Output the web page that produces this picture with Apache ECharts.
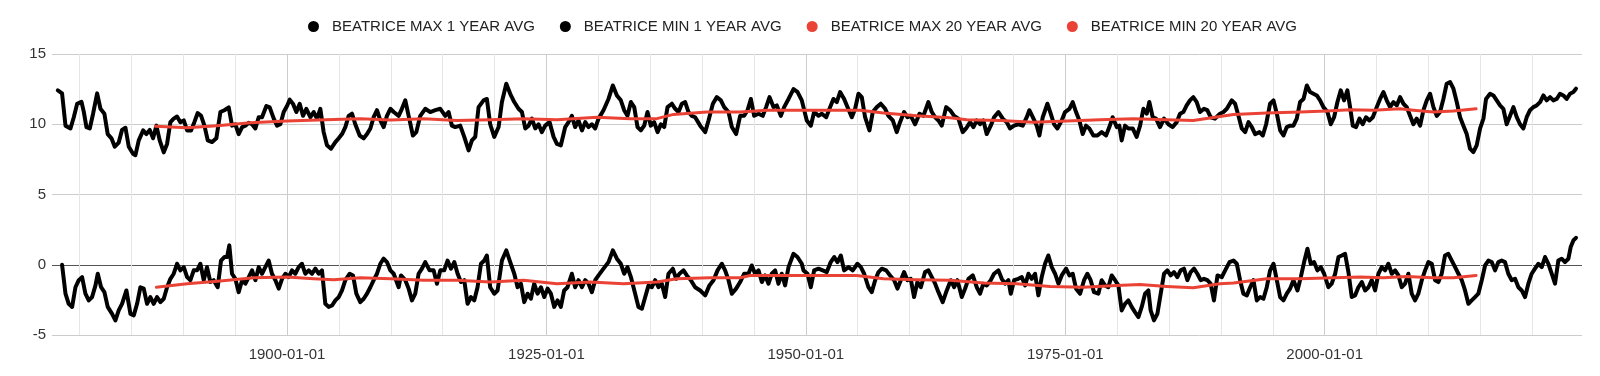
<!DOCTYPE html>
<html>
<head>
<meta charset="utf-8">
<script src="https://cdn.jsdelivr.net/npm/echarts@6/dist/echarts.min.js"></script>
<style>
html,body{margin:0;padding:0;background:#fff;}
#chart{width:1600px;height:376px;}
</style>
</head>
<body>
<div id="chart"></div>
<script>
// Series names
const seriesNames = ['BEATRICE MAX 1 YEAR AVG', 'BEATRICE MIN 1 YEAR AVG', 'BEATRICE MAX 20 YEAR AVG', 'BEATRICE MIN 20 YEAR AVG'];

// Axis ticks / labels (years)
const xLabelYears = [1900, 1925, 1950, 1975, 2000];
const xGridYears = [1880, 1885, 1890, 1895, 1900, 1905, 1910, 1915, 1920, 1925, 1930, 1935, 1940, 1945, 1950, 1955, 1960, 1965, 1970, 1975, 1980, 1985, 1990, 1995, 2000, 2005, 2010, 2015, 2020];
const xMinYear = 1877.35;
const xMaxYear = 2024.8;

// [decimal year, value]
const max1Year = [
[1877.91,12.41],[1878.32,12.2],[1878.65,9.9],[1879.13,9.7],[1879.45,10.5],[1879.77,11.45],[1880.19,11.6],[1880.41,10.9],[1880.67,9.8],[1880.99,9.7],[1881.31,10.75],[1881.70,12.2],[1882.02,11.1],[1882.40,10.75],[1882.72,9.3],[1883.08,9.0],[1883.40,8.4],[1883.78,8.7],[1884.10,9.6],[1884.43,9.75],[1884.75,8.4],[1885.16,7.9],[1885.39,7.8],[1885.71,8.85],[1886.13,9.56],[1886.45,9.3],[1886.77,9.6],[1887.09,9.0],[1887.41,9.9],[1887.73,8.85],[1888.12,8.0],[1888.44,8.6],[1888.76,10.15],[1889.08,10.4],[1889.40,10.55],[1889.72,10.15],[1890.05,10.27],[1890.37,9.56],[1890.75,9.56],[1891.07,10.15],[1891.39,10.8],[1891.72,10.6],[1892.04,9.9],[1892.36,8.85],[1892.78,8.73],[1893.19,9.0],[1893.58,10.87],[1893.96,11.0],[1894.38,11.2],[1894.70,9.9],[1895.02,10.0],[1895.34,9.3],[1895.67,9.8],[1895.99,9.9],[1896.31,10.1],[1896.63,10.0],[1896.95,9.7],[1897.27,10.5],[1897.59,10.5],[1898.01,11.3],[1898.33,11.2],[1898.72,10.4],[1899.04,9.9],[1899.36,10.0],[1899.68,10.87],[1900.00,11.3],[1900.26,11.75],[1900.58,11.45],[1900.90,10.87],[1901.22,11.45],[1901.54,10.6],[1901.86,11.1],[1902.25,10.5],[1902.57,10.87],[1902.89,10.4],[1903.21,11.1],[1903.53,9.44],[1903.85,8.5],[1904.24,8.26],[1904.66,8.73],[1904.98,9.0],[1905.30,9.3],[1905.62,9.8],[1905.94,10.6],[1906.26,10.75],[1906.58,10.0],[1907.00,9.2],[1907.39,9.0],[1907.71,9.3],[1908.03,9.7],[1908.35,10.5],[1908.67,11.0],[1908.99,10.27],[1909.31,9.8],[1909.63,10.6],[1909.96,11.1],[1910.28,10.87],[1910.76,10.6],
[1911.07,11.1],[1911.40,11.7],[1911.72,10.6],[1912.13,9.2],[1912.46,9.44],[1912.84,10.6],[1913.32,11.1],[1913.80,10.87],[1914.29,11.0],[1914.77,11.1],[1915.25,10.6],[1915.57,10.87],[1915.89,9.9],[1916.21,9.8],[1916.69,9.9],[1917.08,9.1],[1917.50,8.14],[1917.82,8.85],[1918.14,9.1],[1918.46,11.22],[1918.94,11.7],[1919.26,11.8],[1919.58,10.0],[1919.97,9.1],[1920.39,9.8],[1920.71,11.58],[1921.13,12.88],[1921.51,12.17],[1921.90,11.58],[1922.31,11.1],[1922.64,10.87],[1922.96,9.7],[1923.28,9.9],[1923.60,10.4],[1923.92,9.7],[1924.24,10.0],[1924.56,9.44],[1924.88,9.9],[1925.30,10.15],[1925.69,9.1],[1926.01,8.6],[1926.39,8.5],[1926.81,9.8],[1927.13,10.15],[1927.45,10.6],[1927.77,9.8],[1928.09,10.27],[1928.42,9.56],[1928.74,10.15],[1929.06,9.8],[1929.38,10.0],[1929.70,9.7],[1930.02,10.4],[1930.50,11.0],[1930.98,11.8],[1931.40,12.76],[1931.79,12.05],[1932.17,11.7],[1932.49,11.0],[1932.81,10.6],[1933.14,11.58],[1933.46,11.22],[1933.78,9.8],[1934.10,9.56],[1934.42,9.9],[1934.74,10.87],[1935.06,9.9],[1935.38,10.15],[1935.71,9.44],[1936.03,10.0],[1936.35,9.8],[1936.67,11.22],[1937.09,11.46],[1937.41,11.1],[1937.73,10.87],[1938.05,11.46],[1938.37,11.58],[1938.69,10.87],[1939.01,10.6],[1939.33,10.5],[1939.82,9.9],[1940.30,9.44],[1940.62,10.27],[1941.04,11.46],[1941.42,11.93],[1941.81,11.7],[1942.13,11.22],[1942.55,10.87],[1942.87,9.8],[1943.28,9.3],[1943.67,10.6],[1944.05,10.6],[1944.38,11.0],[1944.70,11.8],[1945.02,10.6],[1945.44,10.75],[1945.85,10.6],[1946.17,11.22],[1946.50,11.93],[1946.88,11.22],[1947.20,11.34],[1947.59,10.6],[1947.91,11.22],[1948.33,11.8],[1948.81,12.5],[1949.19,12.3],[1949.61,11.7],
[1949.77,11.22],[1950.09,10.27],[1950.48,9.9],[1950.80,10.87],[1951.22,10.6],[1951.54,10.75],[1951.96,10.5],[1952.34,11.22],[1952.66,11.8],[1952.98,11.58],[1953.30,12.29],[1953.69,11.8],[1954.01,11.22],[1954.43,10.5],[1954.75,11.1],[1955.07,12.17],[1955.39,11.93],[1955.71,10.5],[1956.13,9.56],[1956.45,10.87],[1956.84,11.22],[1957.22,11.46],[1957.64,11.1],[1957.96,10.6],[1958.38,10.27],[1958.76,9.44],[1959.08,10.15],[1959.47,10.87],[1959.79,10.5],[1960.11,10.6],[1960.53,10.0],[1960.95,10.75],[1961.33,10.6],[1961.81,11.58],[1962.14,10.87],[1962.46,10.5],[1962.78,10.27],[1963.10,9.9],[1963.52,11.22],[1963.90,11.0],[1964.29,10.6],[1964.70,10.4],[1965.12,9.44],[1965.44,9.7],[1965.83,10.15],[1966.15,9.8],[1966.47,10.27],[1966.79,10.0],[1967.11,10.27],[1967.43,9.3],[1967.82,9.9],[1968.14,10.5],[1968.56,10.87],[1968.98,10.4],[1969.36,10.15],[1969.68,9.7],[1970.07,9.9],[1970.48,10.0],[1970.90,9.9],[1971.29,10.5],[1971.54,11.0],[1971.87,10.5],[1972.25,9.9],[1972.51,9.2],[1972.83,10.5],[1973.28,11.46],[1973.60,10.75],[1973.92,10.0],[1974.24,9.7],[1974.66,10.27],[1974.98,10.87],[1975.40,11.1],[1975.72,11.58],[1976.04,10.87],[1976.36,10.27],[1976.68,9.3],[1977.00,9.9],[1977.32,9.7],[1977.71,9.2],[1978.10,9.2],[1978.51,9.44],[1978.93,9.2],[1979.25,9.8],[1979.57,10.5],[1979.96,9.8],[1980.21,9.9],[1980.44,8.85],[1980.76,9.9],[1981.08,9.7],[1981.50,9.7],[1981.88,9.1],[1982.21,9.9],[1982.53,11.1],[1982.85,10.75],[1983.10,11.58],[1983.43,10.5],[1983.75,10.4],[1984.13,9.8],[1984.52,10.4],[1984.94,10.0],[1985.35,9.8],[1985.74,10.15],[1986.06,10.75],[1986.38,10.87],[1986.70,11.34],[1987.02,11.7],[1987.34,11.93],[1987.67,11.58],[1987.99,10.87],[1988.37,11.1],[1988.69,11.0],[1989.01,10.5],[1989.43,10.4],[1989.91,10.75],
[1990.25,10.87],[1990.57,11.1],[1991.05,11.7],[1991.37,11.46],[1991.69,10.6],[1992.01,9.7],[1992.34,9.44],[1992.66,10.15],[1992.98,9.8],[1993.30,9.3],[1993.72,9.44],[1994.04,9.2],[1994.36,10.0],[1994.74,11.46],[1995.07,11.7],[1995.39,10.75],[1995.71,9.56],[1996.03,9.2],[1996.35,9.8],[1996.67,9.9],[1996.99,9.9],[1997.31,10.4],[1997.63,11.58],[1997.96,11.8],[1998.28,12.76],[1998.60,12.29],[1998.92,12.17],[1999.24,12.05],[1999.56,11.7],[1999.88,11.22],[2000.27,10.87],[2000.59,10.0],[2000.91,10.5],[2001.23,11.58],[2001.55,12.41],[2001.87,11.7],[2002.19,12.41],[2002.45,11.22],[2002.71,9.9],[2003.03,9.8],[2003.35,10.4],[2003.67,10.0],[2003.99,10.5],[2004.31,10.27],[2004.64,10.5],[2005.02,11.22],[2005.34,11.8],[2005.66,12.29],[2005.98,11.7],[2006.30,11.22],[2006.63,11.58],[2006.95,11.34],[2007.27,11.93],[2007.59,11.46],[2007.91,11.22],[2008.23,10.6],[2008.55,10.0],[2008.87,10.4],[2009.20,9.9],[2009.52,11.0],[2009.84,11.7],[2010.16,12.17],[2010.48,11.22],[2010.80,10.6],[2011.12,10.87],[2011.44,11.8],[2011.76,12.88],[2012.09,13.0],[2012.41,12.53],[2012.73,11.58],[2013.05,10.5],[2013.37,9.9],[2013.69,9.3],[2014.01,8.26],[2014.33,8.02],[2014.65,8.5],[2014.98,9.7],[2015.30,10.4],[2015.55,11.8],[2015.94,12.17],[2016.26,12.05],[2016.58,11.7],[2016.90,11.34],[2017.22,11.1],[2017.54,10.0],[2017.87,10.6],[2018.19,11.22],[2018.51,10.5],[2018.83,10.0],[2019.15,9.7],[2019.47,10.5],[2019.79,11.0],[2020.11,11.22],[2020.43,11.34],[2020.76,11.58],[2021.08,12.05],[2021.40,11.7],[2021.72,11.93],[2022.04,11.7],[2022.36,11.8],[2022.68,12.17],[2023.00,12.05],[2023.32,11.8],[2023.65,12.17],[2023.97,12.29],[2024.22,12.53]
];

const min1Year = [
[1878.32,0.0],[1878.65,-2.06],[1878.96,-2.78],[1879.29,-3.0],[1879.61,-1.6],[1879.93,-1.1],[1880.25,-0.88],[1880.57,-2.06],[1880.89,-2.54],[1881.21,-2.3],[1881.54,-1.47],[1881.76,-0.64],[1882.08,-1.6],[1882.40,-1.95],[1882.72,-3.0],[1883.14,-3.5],[1883.46,-3.96],[1883.78,-3.25],[1884.10,-2.78],[1884.52,-1.83],[1884.91,-3.5],[1885.23,-3.6],[1885.55,-2.78],[1885.87,-1.6],[1886.19,-1.7],[1886.51,-2.78],[1886.83,-2.3],[1887.15,-2.78],[1887.47,-2.3],[1887.80,-2.66],[1888.12,-2.42],[1888.44,-1.6],[1888.76,-1.0],[1889.08,-0.64],[1889.40,0.07],[1889.72,-0.4],[1890.05,-0.17],[1890.37,-0.88],[1890.69,-1.1],[1891.01,-0.4],[1891.33,-0.4],[1891.65,0.07],[1891.97,-1.1],[1892.29,-0.17],[1892.61,-1.23],[1892.93,-1.1],[1893.32,-1.6],[1893.64,0.3],[1893.96,0.55],[1894.22,0.55],[1894.44,1.38],[1894.70,-0.64],[1895.02,-1.0],[1895.34,-1.95],[1895.67,-1.1],[1895.99,-1.35],[1896.31,-0.88],[1896.63,-0.4],[1896.95,-1.1],[1897.27,-0.17],[1897.59,-0.64],[1897.91,-0.17],[1898.23,0.3],[1898.55,-0.64],[1898.88,-1.1],[1899.20,-1.7],[1899.52,-1.0],[1899.84,-0.64],[1900.16,-0.88],[1900.48,-0.4],[1900.80,-0.64],[1901.12,-0.17],[1901.44,0.07],[1901.76,-0.64],[1902.09,-0.4],[1902.41,-0.64],[1902.73,-0.28],[1903.05,-0.64],[1903.37,-0.4],[1903.69,-2.78],[1904.01,-3.0],[1904.34,-2.9],[1904.66,-2.54],[1904.98,-2.3],[1905.30,-1.83],[1905.62,-1.1],[1906.04,-0.64],[1906.36,-0.76],[1906.68,-2.06],[1907.06,-2.66],[1907.39,-2.42],[1907.71,-2.06],[1908.03,-1.6],[1908.35,-1.1],[1908.67,-0.64],[1908.99,0.07],[1909.31,0.43],[1909.63,0.19],[1909.96,-0.4],[1910.28,-0.64],[1910.76,-1.6],
[1910.98,-0.76],[1911.40,-1.1],[1911.72,-1.7],[1912.04,-2.54],[1912.36,-2.06],[1912.68,-0.64],[1913.00,-0.28],[1913.32,0.19],[1913.74,-0.4],[1914.13,-0.4],[1914.45,-1.35],[1914.77,-0.4],[1915.15,-0.4],[1915.47,0.3],[1915.80,-0.28],[1916.12,0.19],[1916.44,-0.64],[1916.76,-1.23],[1917.08,-1.1],[1917.40,-2.78],[1917.72,-2.3],[1918.04,-2.54],[1918.36,-1.6],[1918.69,0.07],[1919.01,0.3],[1919.26,0.66],[1919.58,-1.6],[1919.97,-2.06],[1920.29,-1.83],[1920.71,0.3],[1921.13,1.02],[1921.51,0.19],[1921.90,-0.64],[1922.22,-1.6],[1922.54,-1.35],[1922.86,-2.66],[1923.18,-2.06],[1923.50,-2.42],[1923.82,-1.35],[1924.14,-2.06],[1924.47,-1.6],[1924.79,-2.3],[1925.11,-1.7],[1925.43,-2.06],[1925.75,-3.0],[1926.07,-2.54],[1926.39,-3.0],[1926.71,-1.83],[1927.03,-1.6],[1927.45,-0.64],[1927.77,-1.6],[1928.09,-1.1],[1928.42,-1.6],[1928.74,-1.1],[1929.06,-1.35],[1929.38,-1.95],[1929.70,-1.1],[1930.02,-0.76],[1930.50,-0.28],[1930.98,0.19],[1931.40,1.02],[1931.79,0.43],[1932.17,0.07],[1932.49,-0.64],[1932.81,-0.17],[1933.14,-0.88],[1933.55,-2.06],[1933.87,-3.0],[1934.20,-3.13],[1934.52,-2.3],[1934.84,-1.47],[1935.16,-1.6],[1935.48,-1.1],[1935.80,-1.6],[1936.12,-1.35],[1936.44,-2.3],[1936.76,-0.64],[1937.18,-0.28],[1937.50,-1.0],[1937.82,-0.64],[1938.21,-0.4],[1938.53,-0.76],[1938.92,-1.1],[1939.33,-1.6],[1939.82,-1.83],[1940.30,-2.18],[1940.71,-1.47],[1941.10,-1.1],[1941.49,-0.4],[1941.90,0.07],[1942.22,-0.4],[1942.55,-1.1],[1942.87,-2.06],[1943.28,-1.7],[1943.67,-1.23],[1944.05,-0.64],[1944.47,-0.64],[1944.79,-0.05],[1945.11,-0.64],[1945.44,-0.4],[1945.76,-1.23],[1946.08,-0.76],[1946.40,-1.35],[1946.72,-0.64],[1947.04,-0.4],[1947.36,-1.35],[1947.68,-0.64],[1948.00,-1.47],[1948.33,-0.17],[1948.81,0.78],[1949.19,0.55],[1949.61,0.07],
[1949.77,-0.4],[1950.16,-0.64],[1950.48,-1.6],[1950.80,-0.4],[1951.22,-0.28],[1951.63,-0.4],[1952.02,-0.52],[1952.40,0.19],[1952.73,0.55],[1953.05,0.19],[1953.37,0.66],[1953.69,-0.4],[1954.11,-0.17],[1954.52,-0.4],[1954.97,0.07],[1955.30,-0.17],[1955.62,-0.64],[1956.03,-1.6],[1956.35,-1.95],[1956.68,-1.1],[1957.00,-0.52],[1957.32,-0.28],[1957.74,-0.4],[1958.12,-0.76],[1958.51,-1.1],[1958.83,-1.7],[1959.15,-1.1],[1959.47,-0.52],[1959.79,-1.1],[1960.11,-1.0],[1960.43,-2.3],[1960.75,-1.23],[1961.08,-1.6],[1961.49,-0.52],[1961.81,-0.4],[1962.14,-0.88],[1962.46,-1.35],[1962.78,-1.95],[1963.19,-2.66],[1963.58,-1.83],[1963.97,-1.1],[1964.29,-1.6],[1964.61,-1.1],[1965.03,-2.3],[1965.35,-1.7],[1965.67,-1.0],[1966.09,-0.76],[1966.47,-1.6],[1966.79,-2.06],[1967.11,-1.35],[1967.43,-1.47],[1967.82,-1.1],[1968.14,-0.64],[1968.56,-0.4],[1968.88,-1.0],[1969.20,-1.35],[1969.52,-1.1],[1969.75,-2.06],[1970.07,-1.1],[1970.48,-1.0],[1970.81,-0.88],[1971.13,-1.47],[1971.45,-0.64],[1971.77,-1.0],[1972.09,-0.64],[1972.41,-2.18],[1972.73,-0.88],[1973.05,0.07],[1973.37,0.66],[1973.70,-0.17],[1974.02,-0.64],[1974.34,-1.35],[1974.66,-0.76],[1975.08,-0.28],[1975.40,-0.76],[1975.72,-0.64],[1976.04,-1.7],[1976.43,-2.06],[1976.81,-1.1],[1977.13,-0.64],[1977.45,-1.1],[1977.77,-1.95],[1978.19,-2.06],[1978.51,-1.1],[1978.83,-1.47],[1979.15,-1.6],[1979.48,-0.76],[1979.80,-1.1],[1980.12,-1.47],[1980.44,-3.25],[1980.76,-2.78],[1981.08,-2.54],[1981.40,-3.0],[1981.72,-3.37],[1982.05,-3.72],[1982.37,-3.0],[1982.69,-2.06],[1983.01,-1.83],[1983.23,-3.25],[1983.55,-3.96],[1983.88,-3.49],[1984.20,-2.06],[1984.52,-0.64],[1984.84,-0.4],[1985.16,-0.76],[1985.48,-0.52],[1985.80,-0.88],[1986.12,-0.4],[1986.44,-0.28],[1986.77,-1.1],[1987.09,-0.52],[1987.41,-0.28],[1987.73,-0.64],[1988.05,-1.1],[1988.37,-1.0],[1988.69,-1.1],[1989.01,-1.35],[1989.33,-2.54],
[1989.67,-0.76],[1990.09,-0.88],[1990.41,-0.4],[1990.83,0.19],[1991.21,0.3],[1991.53,0.07],[1991.85,-1.1],[1992.17,-2.06],[1992.50,-2.18],[1992.82,-1.6],[1993.14,-1.1],[1993.46,-2.54],[1993.78,-2.3],[1994.10,-2.42],[1994.42,-1.6],[1994.74,-0.4],[1995.07,0.07],[1995.39,-1.1],[1995.71,-2.3],[1996.03,-2.54],[1996.35,-2.06],[1996.67,-1.7],[1996.99,-1.1],[1997.38,-1.83],[1997.70,-0.88],[1998.02,0.19],[1998.34,1.14],[1998.66,0.07],[1998.98,0.19],[1999.30,-0.4],[1999.63,-0.17],[1999.95,-0.64],[2000.36,-1.6],[2000.68,-1.35],[2001.01,-0.64],[2001.33,0.55],[2001.65,0.66],[2001.97,0.78],[2002.29,-0.52],[2002.61,-2.3],[2002.93,-2.18],[2003.25,-1.6],[2003.58,-1.23],[2003.90,-1.83],[2004.22,-1.6],[2004.54,-1.1],[2004.86,-1.83],[2005.18,-0.64],[2005.50,-0.17],[2005.82,-0.4],[2006.14,0.07],[2006.47,-0.64],[2006.79,-0.4],[2007.11,-0.76],[2007.43,-1.6],[2007.75,-1.35],[2008.07,-0.64],[2008.39,-2.06],[2008.71,-2.54],[2009.03,-2.06],[2009.36,-1.1],[2009.68,-0.4],[2010.00,0.19],[2010.32,0.07],[2010.64,-1.1],[2010.96,-1.23],[2011.28,-0.64],[2011.60,0.66],[2011.92,0.78],[2012.25,0.3],[2012.57,-0.17],[2012.89,-0.64],[2013.21,-1.1],[2013.53,-1.83],[2013.85,-2.78],[2014.17,-2.54],[2014.49,-2.3],[2014.81,-2.06],[2015.14,-1.1],[2015.46,-0.05],[2015.78,0.3],[2016.10,0.19],[2016.42,-0.4],[2016.74,0.19],[2017.06,0.3],[2017.38,0.19],[2017.70,-0.64],[2018.03,-1.1],[2018.35,-1.0],[2018.67,-1.6],[2018.99,-1.83],[2019.31,-2.3],[2019.63,-1.35],[2019.95,-0.64],[2020.27,-0.28],[2020.60,0.07],[2020.92,-0.17],[2021.24,0.55],[2021.56,0.07],[2021.88,-0.64],[2022.20,-1.35],[2022.52,0.3],[2022.84,0.43],[2023.16,0.19],[2023.49,0.43],[2023.71,1.26],[2023.97,1.73],[2024.22,1.92]
];

const max20Year = [
[1887.32,9.85],[1890.37,9.75],[1893.26,9.9],[1896.47,10.1],[1900.00,10.23],[1904.50,10.34],[1907.06,10.4],[1910.0,10.3],[1913.16,10.4],[1916.37,10.27],[1919.58,10.32],[1922.80,10.4],[1926.01,10.32],[1929.86,10.5],[1933.07,10.4],[1935.64,10.4],[1937.25,10.7],[1940.46,10.87],[1943.67,10.87],[1946.24,11.0],[1948.49,11.0],[1952.66,11.0],[1955.23,11.0],[1957.48,10.8],[1960.69,10.6],[1963.90,10.46],[1965.51,10.32],[1968.72,10.27],[1971.93,10.15],[1975.14,10.23],[1978.35,10.32],[1981.56,10.4],[1984.77,10.32],[1987.34,10.27],[1989.91,10.55],[1991.21,10.7],[1994.42,10.8],[1997.63,10.87],[2000.20,10.94],[2002.45,11.03],[2004.70,11.0],[2007.27,11.1],[2008.55,11.0],[2010.48,10.87],[2012.41,10.94],[2014.59,11.1]
];

const min20Year = [
[1887.41,-1.6],[1890.37,-1.35],[1893.58,-1.16],[1896.79,-0.93],[1900.00,-0.88],[1902.57,-1.0],[1904.50,-1.07],[1907.06,-0.93],[1910.0,-1.0],[1913.16,-1.1],[1916.37,-1.1],[1919.58,-1.23],[1922.80,-1.1],[1926.01,-1.35],[1929.22,-1.23],[1932.43,-1.35],[1935.64,-1.23],[1937.57,-1.0],[1940.78,-0.93],[1943.67,-0.93],[1944.63,-0.76],[1948.49,-0.76],[1952.66,-0.76],[1954.91,-0.76],[1957.48,-1.0],[1960.69,-1.07],[1963.90,-1.1],[1967.11,-1.3],[1970.32,-1.35],[1973.54,-1.54],[1976.75,-1.6],[1979.96,-1.47],[1982.21,-1.4],[1984.77,-1.54],[1987.34,-1.64],[1989.91,-1.35],[1991.21,-1.3],[1994.42,-1.0],[1997.63,-1.0],[2000.85,-0.93],[2003.41,-0.88],[2005.66,-0.93],[2007.91,-0.83],[2010.48,-0.93],[2012.41,-0.93],[2014.59,-0.76]
];

const FONT = "'Liberation Sans', Arial, sans-serif";
const BLACK = '#000000';
const RED = '#ea4335';

const chart = echarts.init(document.getElementById('chart'), null, {renderer: 'canvas'});

function lineSeries(name, data, color, width) {
  return {
    name: name,
    type: 'line',
    data: data,
    showSymbol: false,
    symbol: 'circle',
    color: color,
    itemStyle: {color: color},
    lineStyle: {color: color, width: width, join: 'round', cap: 'round'},
    emphasis: {disabled: true},
    silent: true,
    animation: false
  };
}

const minorColor = '#e6e6e6';
const majorColor = '#cccccc';
const xSplitColors = [minorColor, minorColor, minorColor, minorColor, majorColor];

chart.setOption({
  animation: false,
  backgroundColor: '#ffffff',
  textStyle: {fontFamily: FONT},
  legend: {
    data: seriesNames,
    left: 303,
    top: 14,
    icon: 'circle',
    itemWidth: 27,
    itemHeight: 11,
    itemGap: 25,
    textStyle: {fontFamily: FONT, fontSize: 15, color: '#222'}
  },
  grid: {left: 52, right: 18, top: 54, bottom: 41},
  xAxis: {
    type: 'value',
    min: xMinYear,
    max: xMaxYear,
    axisLine: {show: false, onZero: false},
    axisTick: {show: false, customValues: xGridYears},
    axisLabel: {
      customValues: xLabelYears,
      formatter: function (v) { return Math.round(v) + '-01-01'; },
      fontFamily: FONT, fontSize: 15, color: '#333', margin: 12
    },
    splitLine: {show: true, lineStyle: {color: xSplitColors, width: 1}}
  },
  yAxis: {
    type: 'value',
    min: -5,
    max: 15,
    interval: 5,
    axisLine: {show: false},
    axisTick: {show: false},
    axisLabel: {fontFamily: FONT, fontSize: 15, color: '#333', margin: 6},
    splitLine: {show: true, lineStyle: {color: ['#cccccc', '#555555', '#cccccc', '#cccccc', '#cccccc'], width: 1}}
  },
  series: [
    lineSeries(seriesNames[0], max1Year, BLACK, 4),
    lineSeries(seriesNames[1], min1Year, BLACK, 4),
    lineSeries(seriesNames[2], max20Year, RED, 3),
    lineSeries(seriesNames[3], min20Year, RED, 3)
  ]
});
</script>
</body>
</html>
